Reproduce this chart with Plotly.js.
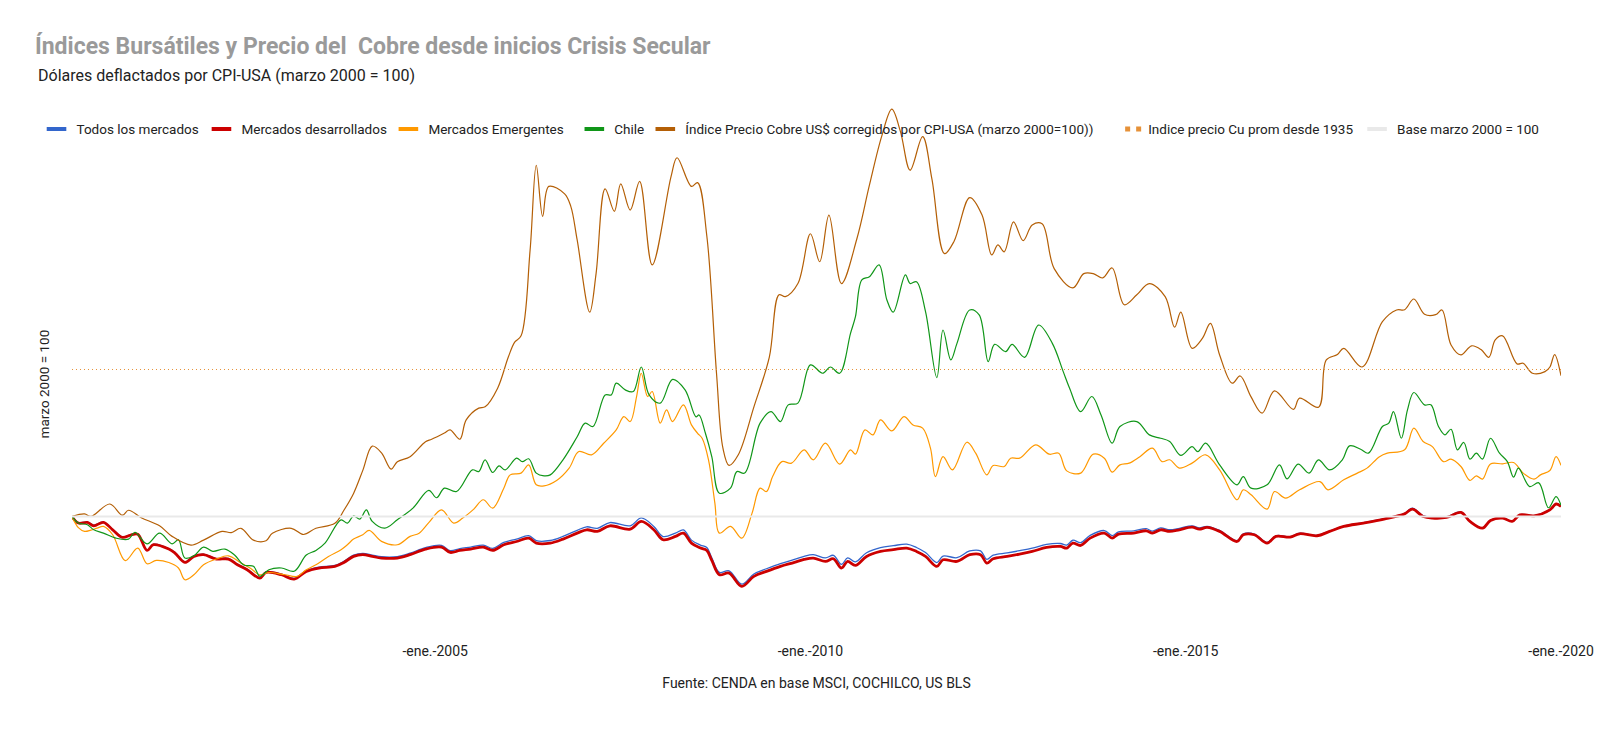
<!DOCTYPE html>
<html>
<head>
<meta charset="utf-8">
<script src="https://cdn.plot.ly/plotly-3.0.1.min.js"></script>
<style>
  html, body { margin: 0; padding: 0; background: #ffffff; }
  #chart { width: 1600px; height: 729px; }
</style>
</head>
<body>
<div id="chart"></div>
<script>
// ---------------- DATA ----------------
const chartTitle = 'Índices Bursátiles y Precio del  Cobre desde inicios Crisis Secular';
const chartSubtitle = 'Dólares deflactados por CPI-USA (marzo 2000 = 100)';
const yTitle = 'marzo 2000 = 100';
const xTitle = 'Fuente: CENDA en base MSCI, COCHILCO, US BLS';

const seriesNames = [
  'Todos los mercados',
  'Mercados desarrollados',
  'Mercados Emergentes',
  'Chile',
  'Índice Precio Cobre US$ corregidos por CPI-USA (marzo 2000=100))',
  'Indice precio Cu prom desde 1935',
  'Base marzo 2000 = 100'
];

const xTickVals = ['2005-01-01', '2010-01-01', '2015-01-01', '2020-01-01'];
const xTickText = ['-ene.-2005', '-ene.-2010', '-ene.-2015', '-ene.-2020'];
const xRange = ['2000-03-01', '2020-01-01'];

// Copper price index (CPI-deflated, March 2000 = 100)
const copperDates = [
  '2000-03-01','2000-05-01','2000-06-01','2000-09-01','2000-11-01','2000-12-01',
  '2001-02-01','2001-05-01','2001-07-01','2001-10-01','2001-12-01',
  '2002-03-01','2002-04-15','2002-06-01','2002-08-01','2002-10-01','2002-11-01',
  '2003-02-01','2003-04-01','2003-06-01','2003-09-01','2003-10-15','2003-12-01',
  '2004-01-15','2004-03-01','2004-04-15','2004-06-01','2004-07-01','2004-09-01','2004-11-15','2004-12-15',
  '2005-02-15','2005-03-15','2005-05-01','2005-06-01','2005-08-01','2005-09-01','2005-11-01','2005-12-23',
  '2006-01-23','2006-02-23','2006-04-08','2006-05-08','2006-06-08','2006-07-08','2006-09-23','2006-10-23','2006-11-23',
  '2007-01-23','2007-02-23','2007-04-08','2007-05-23','2007-06-23','2007-08-08','2007-09-23','2007-11-23',
  '2008-02-23','2008-03-23','2008-06-01','2008-07-01','2008-08-15','2008-10-01','2008-11-01','2008-12-01',
  '2009-01-15','2009-04-01','2009-06-15','2009-08-01','2009-09-01','2009-11-01',
  '2010-01-01','2010-02-15','2010-04-01','2010-06-01','2010-08-15','2010-10-15','2010-12-15',
  '2011-02-01','2011-03-15','2011-05-01','2011-07-01','2011-08-15','2011-10-15','2011-12-01',
  '2012-02-15','2012-04-15','2012-06-01','2012-07-01','2012-08-01','2012-09-15','2012-11-01','2012-12-15',
  '2013-02-01','2013-04-01','2013-07-01','2013-08-23','2013-10-08','2013-11-23',
  '2014-01-08','2014-03-08','2014-05-08','2014-07-08','2014-09-23','2014-11-08','2014-12-08',
  '2015-02-01','2015-03-23','2015-05-01','2015-06-15','2015-08-15','2015-09-23','2015-11-15',
  '2016-01-08','2016-03-08','2016-06-08','2016-07-08','2016-10-08','2016-11-15',
  '2017-01-08','2017-02-08','2017-05-08','2017-08-15','2017-10-23','2017-12-01',
  '2018-01-15','2018-03-08','2018-05-01','2018-06-01','2018-07-15','2018-09-01','2018-10-23','2018-12-08',
  '2019-01-15','2019-02-15','2019-03-23','2019-06-01','2019-07-01','2019-08-15','2019-10-15','2019-11-08','2019-12-01',
  '2020-01-01'
];
const copperValues = [
  100,102,100,110,101,105,
  99,92.5,84,77,81,
  88,87,90.5,81,80.5,86.5,
  90.5,85.5,90.5,94.5,105,118.5,
  137,156.5,151,138,144,148,160,162,
  167,169.5,162,177.5,187,188,203,228,
  240,245,314,382,341,365,359,349,322,
  264,295,363,345,367,346,369,302,
  373,388,365,368,325,215,155,141,
  149.5,188,228,278,276.5,287,
  327,304.5,342,287,323,366,406,
  427,409,378,405,371,311,321,
  356,342,310,318,312.5,336.5,321.5,334,
  335,299,283.5,295,295,291.5,
  299.5,270,278,287,276.5,252,264,
  235,243,255,229.7,207,212.8,196,
  183,200.8,186,195,187.7,225.7,
  230,235,220,256.4,265.8,266,
  274.6,262.3,262,265.8,237.7,229.7,237,234,
  227.8,241.7,245,222.5,223,215,216.3,220,230,
  213
];

// Chile (MSCI Chile, deflated)
const chileDates = [
  '2000-03-01','2000-04-01','2000-05-15','2000-06-15','2000-08-01','2000-10-01','2000-12-01',
  '2001-01-01','2001-03-01','2001-05-01','2001-07-01','2001-08-01','2001-09-01','2001-10-15','2001-12-01',
  '2002-01-15','2002-03-15','2002-05-01','2002-06-15','2002-08-01','2002-09-01','2002-10-15','2002-12-15',
  '2003-02-15','2003-04-15','2003-06-01','2003-07-15','2003-10-01','2003-11-01','2003-12-01',
  '2004-01-01','2004-02-01','2004-03-01','2004-05-01','2004-07-01','2004-09-15','2004-12-01',
  '2005-01-08','2005-02-15','2005-04-15','2005-07-01','2005-08-01','2005-09-01','2005-10-08','2005-11-08','2005-12-08',
  '2006-02-01','2006-03-01','2006-04-01','2006-05-08','2006-06-15','2006-07-15','2006-09-15','2006-11-23',
  '2007-01-01','2007-02-08','2007-04-08','2007-05-08','2007-06-01','2007-07-15','2007-08-23','2007-10-01','2007-11-08',
  '2008-01-01','2008-03-01','2008-05-01','2008-06-23','2008-07-08','2008-08-08','2008-09-08','2008-10-15','2008-12-08',
  '2009-01-08','2009-02-15','2009-05-01','2009-06-23','2009-08-08','2009-09-15','2009-11-01',
  '2010-01-01','2010-03-01','2010-04-08','2010-05-23','2010-07-15','2010-08-08','2010-09-08','2010-10-15','2010-12-01',
  '2011-01-08','2011-02-08','2011-04-08','2011-05-01','2011-06-01','2011-07-15','2011-09-08','2011-10-08','2011-11-15','2011-12-15',
  '2012-02-15','2012-04-01','2012-05-15','2012-06-15','2012-08-08','2012-09-08','2012-11-08',
  '2013-01-15','2013-03-23','2013-05-15','2013-06-15','2013-08-08','2013-10-01','2013-11-15',
  '2014-01-08','2014-02-15','2014-05-08','2014-07-08','2014-09-01','2014-10-15','2014-12-08',
  '2015-02-01','2015-03-01','2015-04-08','2015-06-15','2015-09-08','2015-10-08','2015-11-15',
  '2016-02-01','2016-04-01','2016-05-08','2016-07-01','2016-08-23','2016-10-08','2016-12-01',
  '2017-02-01','2017-03-08','2017-05-01','2017-06-08','2017-08-15','2017-09-15','2017-10-08','2017-11-15','2017-12-15',
  '2018-01-15','2018-03-08','2018-04-08','2018-05-15','2018-06-15','2018-07-15','2018-08-15','2018-09-15','2018-10-15','2018-11-15','2018-12-15',
  '2019-01-23','2019-03-08','2019-04-15','2019-05-15','2019-06-08','2019-08-01','2019-09-15','2019-11-01','2019-12-08',
  '2020-01-01'
];
const chileValues = [
  100,94.7,93.3,89.3,86.6,82.6,81.8,
  87.2,78,86.6,78,81.3,66.6,68.4,75.4,
  72,73.8,69,61,60,52,57.2,58.6,
  56,69,72.7,78.6,97.3,94.6,100.5,
  97.9,105.3,96,90.6,97.3,106.7,121,
  115,122.7,120,137.4,136,145.5,135.3,140.6,137.4,
  146.8,144,146.3,134.8,132.6,133.4,145.5,164,
  174.9,172.2,197.6,197.6,207,201.6,200.3,220,197.6,
  191,210,201.6,180,181.5,166.8,148,118.7,122.7,
  136,134.8,174.9,184.2,176.2,189.6,191,
  221.7,215,220,215,247,260.4,290,292.5,302,
  273.8,264,293.9,287,288.5,264.4,211.5,249.7,225.7,239,
  265.8,261.8,224.3,238.2,232.4,238.2,227.8,
  253.7,239,216.3,203,184.2,196.3,181.5,
  158.8,172.2,176.2,165.5,162.8,160.2,149,
  156,152,158.8,141.4,125.4,132,122.7,
  125.4,141.4,130.2,142,134.8,145.5,137.4,
  145.5,156.7,154,150.8,172.2,174.9,184.2,162.8,185.6,
  199.5,189.6,189.6,172.2,165.5,170,153.5,159.4,146,150.8,146,
  162.8,150.8,144,131.6,138.8,124,127,107,116,
  109
];

// Emerging markets (MSCI EM, deflated)
const emergingDates = [
  '2000-03-01','2000-04-01','2000-05-01','2000-06-01','2000-07-01','2000-08-01','2000-09-15','2000-11-15',
  '2001-01-15','2001-03-01','2001-04-15','2001-06-15','2001-08-01','2001-09-01','2001-10-15','2001-12-01',
  '2002-02-01','2002-04-01','2002-06-01','2002-07-15','2002-09-01','2002-10-15',
  '2003-01-01','2003-03-01','2003-04-15','2003-06-01','2003-08-01','2003-10-01','2003-11-01','2003-12-01',
  '2004-01-15','2004-02-15','2004-04-15','2004-07-01','2004-09-01','2004-10-15','2004-12-01',
  '2005-02-01','2005-04-01','2005-05-15','2005-07-08','2005-08-23','2005-10-08','2005-12-01',
  '2006-01-01','2006-02-23','2006-04-01','2006-05-08','2006-06-15','2006-08-15','2006-10-15','2006-12-01',
  '2007-02-01','2007-04-01','2007-06-01','2007-07-08','2007-08-08','2007-09-08','2007-10-01','2007-11-01','2007-11-23',
  '2008-01-01','2008-02-01','2008-03-01','2008-04-23','2008-06-01','2008-07-01','2008-07-23','2008-08-23','2008-09-23','2008-10-15','2008-12-08',
  '2009-02-01','2009-03-23','2009-05-01','2009-06-01','2009-07-01','2009-08-15','2009-10-01','2009-12-01',
  '2010-01-15','2010-03-15','2010-05-23','2010-07-15','2010-08-08','2010-09-23','2010-11-01','2010-12-08',
  '2011-02-01','2011-04-01','2011-05-15','2011-07-01','2011-08-08','2011-09-01','2011-10-08','2011-11-23',
  '2012-02-01','2012-03-15','2012-05-08','2012-06-08','2012-08-01','2012-09-01','2012-10-15',
  '2013-01-01','2013-03-08','2013-04-23','2013-06-01','2013-08-08','2013-10-08','2013-12-01',
  '2014-01-08','2014-02-15','2014-04-01','2014-05-23','2014-07-23','2014-09-08','2014-10-15','2014-12-01',
  '2015-02-01','2015-04-08','2015-06-15','2015-09-08','2015-10-08','2015-11-15',
  '2016-02-01','2016-03-08','2016-05-01','2016-07-08','2016-10-15','2016-11-23',
  '2017-02-08','2017-04-15','2017-06-01','2017-08-01','2017-09-08','2017-12-01',
  '2018-01-15','2018-03-01','2018-04-15','2018-06-08','2018-07-15','2018-09-01','2018-10-15','2018-11-15','2018-12-15',
  '2019-01-23','2019-03-23','2019-05-15','2019-07-01','2019-08-23','2019-09-23','2019-11-08','2019-12-08',
  '2020-01-01'
];
const emergingValues = [
  100,91,88,89,90.6,92,85.3,64.5,
  74.6,62,64.7,63,58.6,49.2,53.2,61.2,
  65.8,68.4,62.6,58.6,53.2,55,
  53.2,51.9,57.2,61.2,67.9,73.3,77.3,81.8,
  85.3,88.8,80,77.3,84,86.6,95,
  105.3,94.7,98.7,105.9,113.4,106.7,122.7,
  133.4,134.8,141.4,125.4,124.6,128.9,138.8,152.1,
  149.5,158.8,169.5,180.2,176.2,196.3,215,196.3,200.3,
  174.9,185.6,176.2,189.6,173.5,166.8,162.8,145.5,110.7,86.6,92,
  82.6,102.7,122.7,120,132,144,142.8,153.5,
  145.5,158.8,142,153.5,150,169.5,165.5,177.5,
  168.7,180.2,173.5,170.9,154.8,132,148,137.4,
  159.6,150.8,133.4,140.9,140.1,146.8,146.8,
  157.5,150,150.8,136.6,134.8,150,146.8,
  135.6,141.4,142.8,148,154.8,144,145.5,138.8,
  142.8,149.5,137.4,113.4,121.4,117.4,
  105.9,120,114.7,121.4,128,121.4,
  129.4,134.8,138.8,148,150.8,153.5,
  170.9,160.2,156.1,144,146,140.1,128.9,132.6,130,
  142.2,142.2,143.3,134.8,130,133.4,136.9,148,
  141
];

// Developed markets (MSCI World) and All markets (MSCI ACWI), deflated
const developedDates = [
  '2000-03-01','2000-04-01','2000-05-15','2000-06-15','2000-08-01','2000-09-15','2000-11-01','2000-12-15',
  '2001-01-15','2001-03-01','2001-04-01','2001-06-15','2001-07-15','2001-09-01','2001-10-15','2001-12-01',
  '2002-02-01','2002-04-01','2002-05-15','2002-07-01','2002-09-01','2002-10-01','2002-12-15',
  '2003-02-15','2003-04-15','2003-06-15','2003-09-01','2003-10-15','2003-12-01',
  '2004-01-15','2004-03-01','2004-04-15','2004-07-01','2004-09-01','2004-11-15',
  '2005-02-01','2005-03-15','2005-05-01','2005-06-23','2005-08-23','2005-10-08','2005-12-01',
  '2006-02-01','2006-04-01','2006-05-08','2006-07-15','2006-09-15','2006-11-23',
  '2007-01-08','2007-03-01','2007-05-01','2007-08-08','2007-10-01','2007-12-01',
  '2008-01-15','2008-03-15','2008-04-23','2008-06-01','2008-07-15','2008-08-15','2008-09-08','2008-10-15','2008-12-01',
  '2009-02-01','2009-04-01','2009-06-01','2009-08-08','2009-10-15','2009-12-01',
  '2010-01-15','2010-03-15','2010-04-23','2010-06-01','2010-07-01','2010-08-08','2010-10-01','2010-12-08',
  '2011-02-08','2011-04-15','2011-06-01','2011-07-15','2011-09-08','2011-10-08','2011-12-15',
  '2012-02-15','2012-04-08','2012-05-08','2012-06-08','2012-08-15','2012-10-15','2012-12-15',
  '2013-02-23','2013-05-01','2013-06-01','2013-07-01','2013-08-08','2013-09-23','2013-12-01',
  '2014-01-08','2014-02-08','2014-04-23','2014-06-23','2014-07-23','2014-09-01','2014-10-15','2014-12-01',
  '2015-02-01','2015-03-08','2015-04-15','2015-06-15','2015-09-08','2015-10-08','2015-12-01',
  '2016-02-01','2016-03-15','2016-05-23','2016-07-08','2016-10-01','2016-12-01',
  '2017-02-08','2017-05-15','2017-08-23','2017-12-01',
  '2018-01-08','2018-03-01','2018-04-15','2018-06-23','2018-09-01','2018-10-15','2018-12-15',
  '2019-01-23','2019-03-23','2019-05-08','2019-06-15','2019-08-23','2019-11-08','2019-12-08',
  '2020-01-01'
];
const developedValues = [
  100,94.7,95.2,92.5,95.2,89.3,83.2,85.3,
  85.8,72.7,77.3,73.8,70.6,63.1,67.9,69.3,
  65.8,65.8,61.2,57.2,50.5,55,53.2,
  49.7,55.9,58.6,59.9,63.1,67.9,
  69.3,67.9,66.6,66.6,69.3,73.8,
  75.4,71.1,72.7,73.8,75.4,72.7,77.3,
  79.9,82.6,78.6,78.6,81.8,86.6,
  89.3,88,92.5,89.8,96,89.3,
  81.3,84,86.6,78.6,74.6,72.7,64.7,53.2,54.5,
  43.9,51.9,55.9,59.9,63.1,65.5,
  66.6,63.9,66,58.6,63.9,60.7,67.9,71.9,
  73.3,74.6,71.9,67.9,59.9,65.2,63.9,
  69.3,69.3,62.6,66,67.9,69.8,71.9,
  75.1,75.9,74.6,78.6,76.7,82.6,86.6,
  82.6,85.8,86.6,88.5,86.6,89.3,88,89.3,
  91.4,89.8,91.2,88,79.9,85.3,85.3,
  78.6,84,83.4,86.1,84.5,88,
  92,94.7,97.9,102.1,
  105.9,100,98.7,99.2,103.2,96,90.6,
  96.8,98.7,96,101.3,100.5,105.3,110,
  108
];
const allMarketsValues = [
  100,95,95.5,93,95.5,89.6,83.5,85.6,
  86.1,73,77.6,74.1,71,63.5,68.3,69.7,
  66.2,66.3,61.7,57.7,51,55.5,53.7,
  50.2,56.5,59.3,60.7,64,68.9,
  70.3,69,67.7,67.8,70.5,75,
  76.8,72.5,74.2,75.4,77,74.4,79.1,
  81.8,84.6,80.6,80.7,84,88.9,
  91.7,90.5,95.1,92.5,98.8,92,
  83.9,86.6,89.2,81,77,75,66.8,55.1,56.4,
  45.6,53.8,58,62.2,65.5,68,
  69.3,66.7,68.8,61.5,66.8,63.6,70.9,75,
  76.5,77.8,75.1,71,63,68.2,66.9,
  72.3,72.3,65.5,68.9,70.7,72.5,74.5,
  77.6,78.3,77,80.9,79,84.8,88.7,
  84.6,87.7,88.4,90.2,88.2,90.8,89.4,90.5,
  92.5,90.8,92.1,88.8,80.6,86,85.9,
  79.1,84.5,83.8,86.5,84.8,88.3,
  92.3,95,98.2,102.5,
  106.6,100.6,99.2,99.6,103.5,96.2,90.8,
  97,98.9,96.2,101.5,100.7,105.5,110.2,
  108.2
];

// Reference levels
const cuAverageSince1935 = 218;
const baseLevel = 100;

// ---------------- CHART ----------------
const colors = ['#3366cc', '#cc0000', '#ff9900', '#109618', '#b45f06', '#e69138', '#e9e9e9'];
const lineOpts = (color, width) => ({ color: color, width: width, shape: 'spline', smoothing: 1 });

const dataTraces = [
  { x: developedDates, y: allMarketsValues, line: lineOpts(colors[0], 1.3) },
  { x: developedDates, y: developedValues, line: lineOpts(colors[1], 2.8) },
  { x: emergingDates, y: emergingValues, line: lineOpts(colors[2], 1.2) },
  { x: chileDates, y: chileValues, line: lineOpts(colors[3], 1.2) },
  { x: copperDates, y: copperValues, line: lineOpts(colors[4], 1.2) },
  { x: xRange, y: [cuAverageSince1935, cuAverageSince1935], line: { color: colors[5], width: 1, dash: '1px,3px' } },
  { x: xRange, y: [baseLevel, baseLevel], line: { color: colors[6], width: 2 } }
].map((t, i) => Object.assign({ name: seriesNames[i], type: 'scatter', mode: 'lines', showlegend: false }, t));

// Legend: one entry per legend box, with short thick swatches like the reference
const legendKeys = seriesNames.map((_, i) => (i === 0 ? 'legend' : 'legend' + (i + 1)));
const legendTraces = seriesNames.map((name, i) => {
  const base = { name: name, legend: legendKeys[i], type: 'scatter', x: [null], y: [null], showlegend: true };
  if (i === 5) {
    return Object.assign(base, { mode: 'lines',
      line: { color: colors[i], width: 5, dash: '0px,12px,5px,6px,5px,2px' } });
  }
  return Object.assign(base, { mode: 'markers',
    marker: { symbol: 'line-ew', size: 14, color: colors[i], line: { color: colors[i], width: 4 } } });
});

const W = 1600, H = 729;
const margin = { l: 71.5, r: 39, t: 92.8, b: 87.6 };
const plotW = W - margin.l - margin.r;
const plotH = H - margin.t - margin.b;
const px2paperX = px => (px - margin.l) / plotW;
const px2paperY = py => (H - margin.b - py) / plotH;

const legendTextX = [76, 241, 428, 614, 685, 1148, 1397];
const legendRowY = 129;
const fontFamily = 'Roboto, Arial, sans-serif';

const layout = {
  width: W, height: H,
  margin: margin,
  paper_bgcolor: '#ffffff',
  plot_bgcolor: '#ffffff',
  font: { family: fontFamily, size: 13, color: '#222222' },
  title: {
    text: chartTitle,
    xref: 'container', yref: 'container',
    x: 35 / W, xanchor: 'left',
    y: 1 - 46 / H, yanchor: 'middle',
    font: { family: fontFamily, size: 23, color: '#9a9a9a', weight: 'bold' }
  },
  showlegend: true,
  xaxis: {
    type: 'date',
    range: xRange,
    tickvals: xTickVals,
    ticktext: xTickText,
    tickfont: { size: 14, color: '#222222' },
    showgrid: false, zeroline: false, showline: false, ticks: '',
    automargin: false,
    fixedrange: true,
    title: { text: xTitle, font: { size: 14, color: '#222222' }, standoff: 20 }
  },
  yaxis: {
    range: [0, 440],
    showticklabels: false,
    showgrid: false, zeroline: false, showline: false, ticks: '',
    automargin: false,
    fixedrange: true
  },
  annotations: [
    { text: chartSubtitle, xref: 'paper', yref: 'paper',
      x: px2paperX(35), y: px2paperY(75), xanchor: 'left', yanchor: 'middle',
      showarrow: false, font: { size: 16, color: '#222222' } },
    { text: yTitle, xref: 'paper', yref: 'paper', textangle: -90,
      x: px2paperX(43), y: px2paperY(384), xanchor: 'center', yanchor: 'middle',
      showarrow: false, font: { size: 13.5, color: '#222222' } }
  ],
  hovermode: false
};

legendKeys.forEach((key, i) => {
  layout[key] = {
    orientation: 'h',
    xref: 'paper', yref: 'paper',
    x: px2paperX(legendTextX[i] - 40), xanchor: 'left',
    y: px2paperY(legendRowY), yanchor: 'middle',
    font: { family: fontFamily, size: 13.5, color: '#222222' },
    bgcolor: 'rgba(0,0,0,0)',
    borderwidth: 0,
    itemwidth: 30,
    itemclick: false, itemdoubleclick: false
  };
});

Plotly.newPlot('chart', dataTraces.concat(legendTraces), layout, { displayModeBar: false, staticPlot: true });
</script>
</body>
</html>
